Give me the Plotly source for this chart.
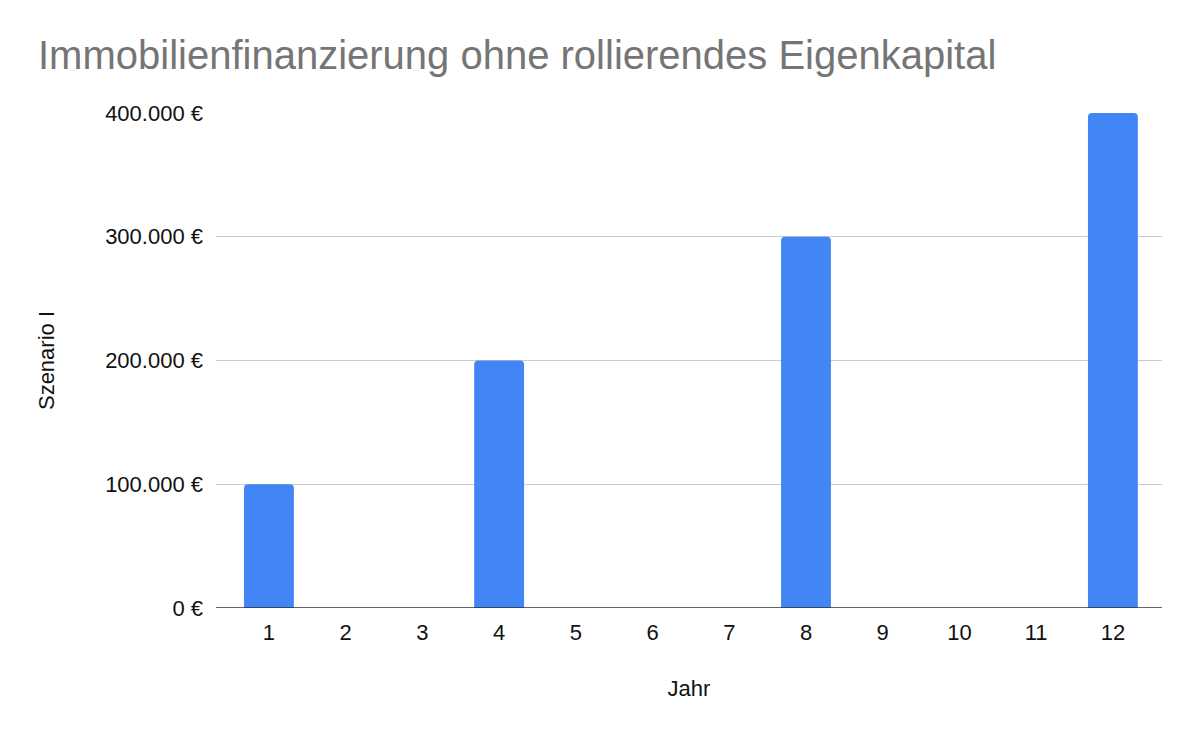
import plotly.graph_objects as go

years = [1, 2, 3, 4, 5, 6, 7, 8, 9, 10, 11, 12]
szenario_i = [100000, 0, 0, 200000, 0, 0, 0, 300000, 0, 0, 0, 400000]
y_ticks = [0, 100000, 200000, 300000, 400000]
y_ticktext = ["0 €", "100.000 €", "200.000 €", "300.000 €", "400.000 €"]

fig = go.Figure()
fig.add_trace(go.Bar(
    x=years, y=szenario_i,
    marker=dict(color="#4285F4", cornerradius=4, line=dict(width=0)),
    width=0.65,
))

font_family = "Liberation Sans, Arial, sans-serif"
fig.update_layout(
    width=1200, height=742,
    paper_bgcolor="white", plot_bgcolor="white",
    margin=dict(l=216, r=38, t=113, b=134),
    separators=",.",
    showlegend=False,
    font=dict(family=font_family, color="#000000", size=22),
    title=dict(
        text="Immobilienfinanzierung ohne rollierendes Eigenkapital",
        font=dict(family=font_family, size=40, color="#757575"),
        x=38 / 1200, xanchor="left", xref="container",
        y=1 - 55 / 742, yanchor="middle",
    ),
    xaxis=dict(
        range=[0.31, 12.64],
        tickmode="array", tickvals=years, ticktext=[str(v) for v in years],
        showgrid=False, zeroline=False,
        showline=False, ticks="",
        ticklabelstandoff=9,
        tickfont=dict(size=22, color="#111111"),
        title=dict(text="Jahr", font=dict(size=22, color="#111111"), standoff=36),
    ),
    yaxis=dict(
        range=[0, 400000],
        tickmode="array", tickvals=y_ticks, ticktext=y_ticktext,
        showgrid=True, gridcolor="#CCCCCC", gridwidth=1,
        zeroline=False, showline=False, ticks="",
        ticklabelstandoff=12,
        tickfont=dict(size=22, color="#111111"),
        title=dict(text="Szenario I", font=dict(size=22, color="#111111"), standoff=44),
    ),
)
# dark baseline
fig.add_shape(type="line", xref="paper", yref="y", x0=0, x1=1, y0=0, y1=0,
              line=dict(color="#333333", width=1.5))

fig.write_html("out.html")
